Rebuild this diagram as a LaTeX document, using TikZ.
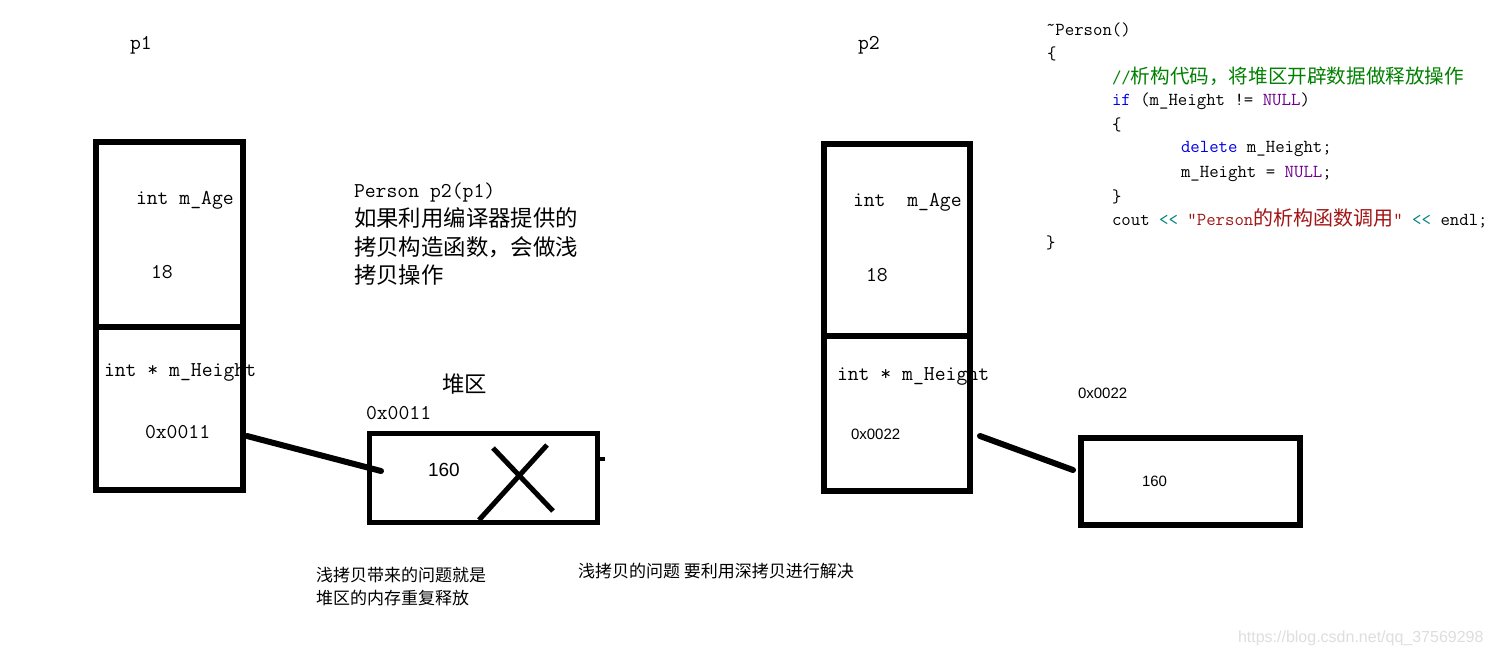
\documentclass[tikz,border=0pt]{standalone}
\usepackage{fontspec}
\newfontfamily\cjk{Noto Sans CJK SC}
\newfontfamily\arialf{Liberation Sans}
\definecolor{cgreen}{RGB}{0,128,0}
\definecolor{cblue}{RGB}{0,0,230}
\definecolor{cpurple}{RGB}{111,0,138}
\definecolor{cteal}{RGB}{0,128,128}
\definecolor{cred}{RGB}{163,21,21}
\begin{document}
\begin{tikzpicture}[x=1pt,y=-1pt,
  txt/.style={inner sep=0pt, outer sep=0pt, anchor=west},
  mono/.style={txt, font=\ttfamily\fontsize{21.1}{24}\selectfont, text height=12.6pt, text depth=0pt},
  code/.style={txt, font=\ttfamily\fontsize{18.3}{22}\selectfont, text height=11pt, text depth=0pt},
  cjkbig/.style={txt, font=\cjk\fontsize{22.4}{28}\selectfont, text height=17pt, text depth=0pt},
  cjksmall/.style={txt, font=\cjk\fontsize{17}{20}\selectfont, text height=13pt, text depth=0pt},
  sanssmall/.style={txt, font=\arialf\fontsize{15}{18}\selectfont, text height=10.8pt, text depth=0pt},
  sansmid/.style={txt, font=\arialf\fontsize{19}{22}\selectfont, text height=13.6pt, text depth=0pt},
  membox/.style={draw, line width=6pt, inner sep=0pt, outer sep=0pt},
  heapbox/.style={draw, line width=5.5pt, inner sep=0pt, outer sep=0pt},
  link/.style={line width=6pt, line cap=round}]
\useasboundingbox[fill=white] (0,0) rectangle (1491,657);

% ---------- p1 ----------
\node[mono] (p1lbl) at (130,43) {p1};
\node[mono] (p1age) at (136,198) {int m\_Age};
\node[mono] (p1val) at (151,272) {18};
\node[mono] (p1h) at (104,370) {int * m\_Height};
\node[mono] (p1addr) at (145,432) {0x0011};
\node[membox, minimum width=147pt, minimum height=348pt] (p1box) at (169.5,316) {};
\draw[line width=6pt] (p1box.west |- 0,326.5) -- (p1box.east |- 0,326.5);

% ---------- middle text ----------
\node[mono] (copyc) at (354,191) {Person p2(p1)};
\node[cjkbig] (m1) at (354,218) {如果利用编译器提供的};
\node[cjkbig] (m2) at (354,247) {拷贝构造函数，会做浅};
\node[cjkbig] (m3) at (354,275) {拷贝操作};

% ---------- heap 1 ----------
\node[cjkbig] (heaplbl) at (442,384) {堆区};
\node[mono] (h1addr) at (366,413) {0x0011};
\node[sansmid] (h1val) at (428,470) {160};
\node[heapbox, minimum width=228pt, minimum height=89pt] (heap1) at (483.5,478) {};
\draw[line width=5pt] (493,448) -- (553,511);
\draw[line width=5pt] (547,445) -- (479,520);
\draw[line width=4pt] (600,458.5) -- (605,458.5);
\coordinate (c1a) at (247,436);
\coordinate (c1b) at (381,471);
\draw[link] (c1a) -- (c1b);

% ---------- p2 ----------
\node[mono] (p2lbl) at (858,43) {p2};
\node[mono] (p2age) at (853,200) {int\ \ m\_Age};
\node[mono] (p2val) at (866,275) {18};
\node[mono] (p2h) at (837,374) {int * m\_Height};
\node[sanssmall] (p2addr) at (851,434) {0x0022};
\node[membox, minimum width=146pt, minimum height=347pt] (p2box) at (897,317.5) {};
\draw[line width=6pt] (p2box.west |- 0,336) -- (p2box.east |- 0,336);

% ---------- heap 2 ----------
\node[sanssmall] (h2addr) at (1078,393) {0x0022};
\node[sanssmall] (h2val) at (1142,481) {160};
\node[membox, minimum width=219pt, minimum height=87pt] (heap2) at (1190.5,481.5) {};
\coordinate (c2a) at (980,436);
\coordinate (c2b) at (1073,470);
\draw[link] (c2a) -- (c2b);

% ---------- code ----------
\node[code] (k1) at (1046,30) {\symbol{"02DC}Person()};
\node[code] (k2) at (1047,54) {\{};
\node[code] (k3) at (1112,78) {\color{cgreen}//{\cjk\fontsize{19.6}{22}\selectfont 析构代码，将堆区开辟数据做释放操作}};
\node[code] (k4) at (1112,100) {{\color{cblue}if} (m\_Height != {\color{cpurple}NULL})};
\node[code] (k5) at (1112,125) {\{};
\node[code] (k6) at (1181,147) {{\color{cblue}delete} m\_Height;};
\node[code] (k7) at (1181,172) {m\_Height = {\color{cpurple}NULL};};
\node[code] (k8) at (1112,197) {\}};
\node[code] (k9) at (1112,220) {cout {\color{cteal}<{}<} {\color{cred}"Person{\cjk\fontsize{20}{22}\selectfont 的析构函数调用}"} {\color{cteal}<{}<} endl;};
\node[code] (k10) at (1046,243) {\}};

% ---------- bottom notes ----------
\node[cjksmall] (n1) at (316,575) {浅拷贝带来的问题就是};
\node[cjksmall] (n2) at (316,598) {堆区的内存重复释放};
\node[cjksmall] (n3) at (578,571) {浅拷贝的问题 要利用深拷贝进行解决};

% ---------- watermark ----------
\node[txt, font=\arialf\fontsize{16}{18}\selectfont, text=black!13, text height=11.5pt, text depth=0pt] (wm) at (1238,637) {https://blog.csdn.net/qq\_37569298};
\end{tikzpicture}
\end{document}
